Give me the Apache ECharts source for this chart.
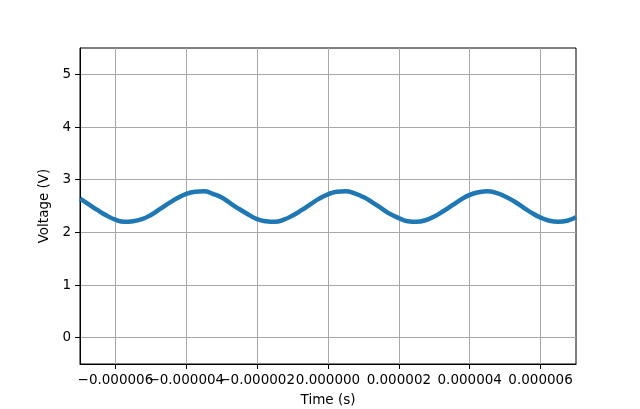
<!DOCTYPE html>
<html>
<head>
<meta charset="utf-8">
<script src="https://cdn.jsdelivr.net/npm/echarts@6/dist/echarts.min.js"></script>
<style>
  html, body { margin: 0; padding: 0; background: #fff; }
  #chart { width: 640px; height: 409px; }
</style>
</head>
<body>
<div id="chart"></div>
<script>
// sample times in microseconds
var timeUs = [
  -7.00, -6.75, -6.50, -6.25, -6.00, -5.75, -5.50, -5.25, -5.00, -4.75,
  -4.50, -4.25, -4.00, -3.75, -3.50, -3.25, -3.00, -2.75, -2.50, -2.25,
  -2.00, -1.75, -1.50, -1.25, -1.00, -0.75, -0.50, -0.25, 0.00, 0.25,
  0.50, 0.75, 1.00, 1.25, 1.50, 1.75, 2.00, 2.25, 2.50, 2.75,
  3.00, 3.25, 3.50, 3.75, 4.00, 4.25, 4.50, 4.75, 5.00, 5.25,
  5.50, 5.75, 6.00, 6.25, 6.50, 6.75, 7.00
];
// voltage (V)
var voltage = [
  2.64, 2.53, 2.42, 2.32, 2.24, 2.20, 2.21, 2.25, 2.33, 2.44,
  2.55, 2.65, 2.73, 2.77, 2.78, 2.73, 2.66, 2.55, 2.44, 2.34,
  2.25, 2.21, 2.20, 2.24, 2.32, 2.42, 2.53, 2.64, 2.72, 2.77,
  2.78, 2.74, 2.67, 2.57, 2.46, 2.35, 2.27, 2.21, 2.20, 2.23,
  2.30, 2.40, 2.51, 2.62, 2.71, 2.76, 2.78, 2.75, 2.68, 2.59,
  2.48, 2.37, 2.28, 2.22, 2.20, 2.22, 2.29
];
var xTicks = [-6e-6, -4e-6, -2e-6, 0, 2e-6, 4e-6, 6e-6];
var yTicks = [0, 1, 2, 3, 4, 5];

var font = 'DejaVu Sans';
var points = timeUs.map(function (t, i) { return [t * 1e-6, voltage[i]]; });

// the x labels touch each other, so every other one goes on a twin axis
// (otherwise echarts drops the overlapping ones)
var xTicksA = xTicks.filter(function (v, i) { return i % 2 === 0; });
var xTicksB = xTicks.filter(function (v, i) { return i % 2 === 1; });
function fmtTime(v) { return (v < 0 ? '\u2212' : '') + Math.abs(v).toFixed(6); }
var xLabelStyle = { margin: 9, fontFamily: font, fontSize: 13.5, color: '#000', formatter: fmtTime };

var chart = echarts.init(document.getElementById('chart'), null, { renderer: 'canvas' });
chart.setOption({
  animation: false,
  backgroundColor: '#fff',
  grid: {
    left: 80, right: 64, top: 48, bottom: 45,
    outerBoundsMode: 'none',
    containLabel: false,
    show: true, borderColor: '#000', borderWidth: 1
  },
  xAxis: [{
    type: 'value',
    min: -7e-6, max: 7e-6,
    name: 'Time (s)', nameLocation: 'middle', nameGap: 29,
    nameTextStyle: { fontFamily: font, fontSize: 13.5, color: '#000' },
    axisLine: { show: true, onZero: false, lineStyle: { color: '#000', width: 1 } },
    axisTick: { show: true, inside: false, length: 5, customValues: xTicks, lineStyle: { color: '#000' } },
    axisLabel: Object.assign({ customValues: xTicksA }, xLabelStyle),
    splitLine: { show: true, lineStyle: { color: '#a8a8a8', width: 1 } }
  }, {
    type: 'value',
    position: 'bottom', offset: 0,
    min: -7e-6, max: 7e-6,
    axisLine: { show: false, onZero: false },
    axisTick: { show: false },
    axisLabel: Object.assign({ customValues: xTicksB }, xLabelStyle),
    splitLine: { show: false }
  }],
  yAxis: {
    type: 'value',
    min: -0.5, max: 5.5,
    name: 'Voltage (V)', nameLocation: 'middle', nameGap: 20,
    nameTextStyle: { fontFamily: font, fontSize: 13.5, color: '#000' },
    axisLine: { show: true, onZero: false, lineStyle: { color: '#000', width: 1 } },
    axisTick: { show: true, inside: false, length: 5, customValues: yTicks, lineStyle: { color: '#000' } },
    axisLabel: {
      customValues: yTicks, margin: 9,
      fontFamily: font, fontSize: 13.5, color: '#000'
    },
    splitLine: { show: true, lineStyle: { color: '#a8a8a8', width: 1 } }
  },
  series: [{
    type: 'line',
    xAxisIndex: 0,
    data: points,
    smooth: true,
    showSymbol: false,
    lineStyle: { color: '#1f77b4', width: 4.5 },
    itemStyle: { color: '#1f77b4' }
  }]
});
</script>
</body>
</html>
